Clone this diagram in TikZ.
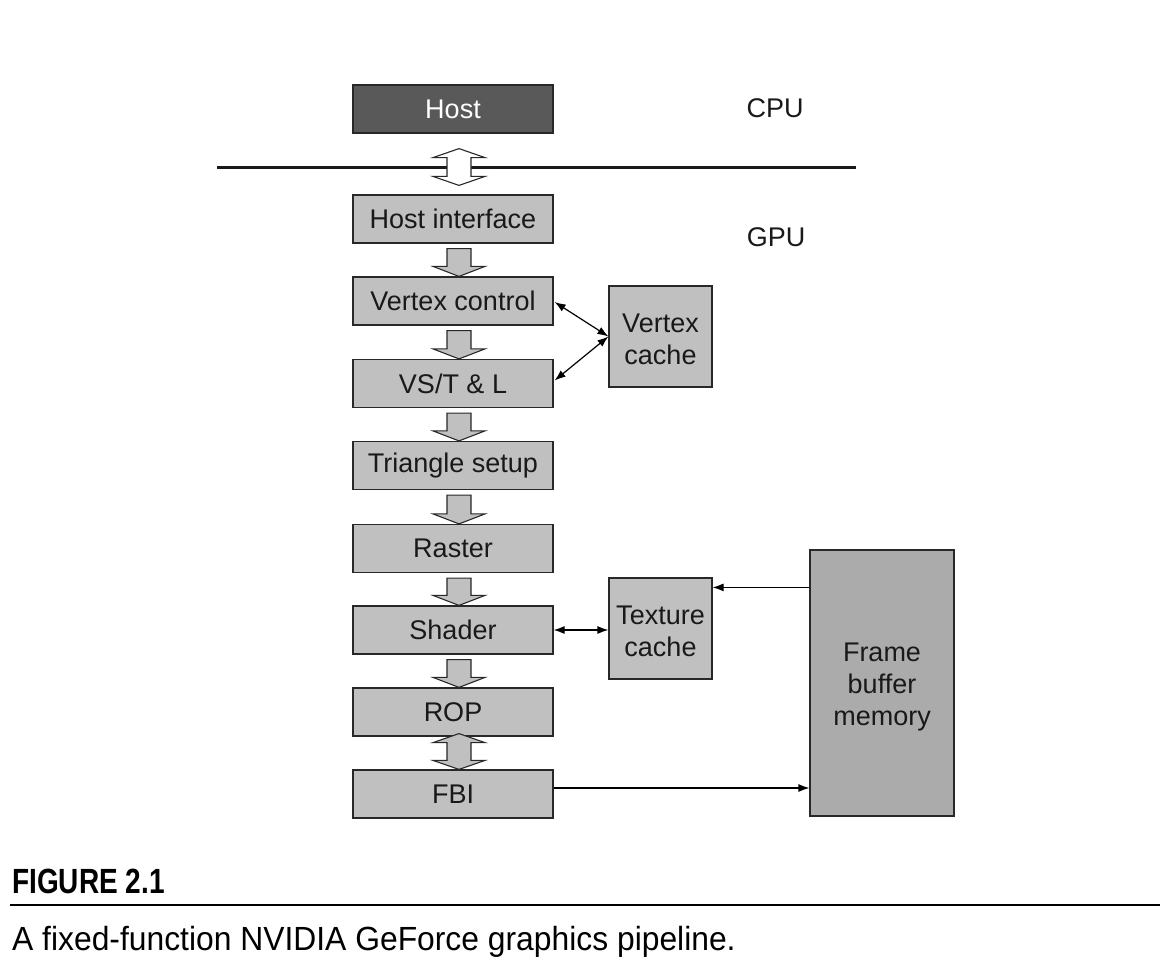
\documentclass[tikz,border=0pt]{standalone}
\usepackage{fontspec}
\setmainfont{Liberation Sans}
\newfontfamily\capfont[FakeStretch=0.95]{Liberation Sans}
\newfontfamily\figfont[FakeStretch=0.8]{Liberation Sans}
\usetikzlibrary{arrows.meta,calc}
\definecolor{boxgray}{RGB}{192,192,192}
\definecolor{hostgray}{RGB}{89,89,89}
\definecolor{fbgray}{RGB}{171,171,171}
\definecolor{edgegray}{RGB}{40,40,40}
\newcommand\blkdown[3]{%
  \draw[blk, fill=#3] ($(#1.south)+(-6,5)$) -- ($(#2.north)+(-6,-10)$) -- ($(#2.north)+(-20,-10)$) -- ($(#2.north)+(6,0)$) -- ($(#2.north)+(32,-10)$) -- ($(#2.north)+(18,-10)$) -- ($(#1.south)+(18,5)$) -- cycle;}
\newcommand\blkboth[5]{%
  \draw[blk, fill=#5] ($(#1.south)+(6,#3)$) -- ($(#1.south)+(32,#3+9)$) -- ($(#1.south)+(18,#3+9)$) -- ($(#2.north)+(18,-#4-9)$) -- ($(#2.north)+(32,-#4-9)$) -- ($(#2.north)+(6,-#4)$) -- ($(#2.north)+(-20,-#4-9)$) -- ($(#2.north)+(-6,-#4-9)$) -- ($(#1.south)+(-6,#3+9)$) -- ($(#1.south)+(-20,#3+9)$) -- cycle;}
\begin{document}
\begin{tikzpicture}[x=1pt,y=-1pt,
  box/.style={draw=edgegray, line width=1.2pt, fill=boxgray, minimum width=200pt, minimum height=48pt, inner sep=0pt, font=\fontsize{27}{32}\selectfont, text=black!90},
  cache/.style={box, minimum width=103pt, minimum height=101pt, align=center},
  lbl/.style={font=\fontsize{27}{32}\selectfont, inner sep=0pt, text=black!90},
  blk/.style={draw=edgegray, line width=1.1pt, line join=miter},
  biarrow/.style={line width=1.2pt, {Latex[length=11pt,width=8pt]}-{Latex[length=11pt,width=8pt]}},
  arr/.style={line width=1.2pt, -{Latex[length=11pt,width=8pt]}}]
\useasboundingbox (0,0) rectangle (1172,972);
% bus
\coordinate (busL) at (217,167);
\coordinate (busR) at (856,167);
\draw[line width=3pt, black!90] (busL) -- (busR);
% pipeline boxes
\node[box, fill=hostgray, text=white] (host) at (453,109) {Host};
\node[box] (hi) at (453,219) {Host interface};
\node[box] (vc) at (453,301) {Vertex control};
\node[box] (vs) at (453,383.5) {VS/T \& L};
\node[box] (ts) at (453,465.5) {Triangle setup};
\node[box] (ra) at (453,548.5) {Raster};
\node[box] (sh) at (453,630) {Shader};
\node[box] (rop) at (453,712) {ROP};
\node[box] (fbi) at (453,794) {FBI};
% caches and memory
\node[cache] (vcache) at (660.5,336.5) {\rule{0pt}{23.5pt}Vertex\\cache};
\node[cache] (tcache) at (660.5,628.5) {\rule{0pt}{23.5pt}Texture\\cache};
\node[cache, fill=fbgray, minimum width=144pt, minimum height=266pt] (fb) at (882,683) {\rule{0pt}{27.5pt}Frame\\buffer\\memory};
% labels
\node[lbl] (cpu) at (775,108) {CPU};
\node[lbl] (gpu) at (776,237) {GPU};
% block arrows
\blkboth{host}{hi}{15}{9}{white}
\blkdown{hi}{vc}{boxgray}
\blkdown{vc}{vs}{boxgray}
\blkdown{vs}{ts}{boxgray}
\blkdown{ts}{ra}{boxgray}
\blkdown{ra}{sh}{boxgray}
\blkdown{sh}{rop}{boxgray}
\blkboth{rop}{fbi}{-3}{0}{boxgray}
% thin connectors
\draw[biarrow] ($(vc.east)+(1,1)$) -- (vcache.west);
\draw[biarrow] ($(vs.east)+(1,-3)$) -- (vcache.west);
\draw[biarrow] (sh.east) -- (sh.east -| tcache.west);
\coordinate (fbt) at ($(fb.north west)+(0,38)$);
\draw[arr] (fbt) -- (fbt -| tcache.east);
\coordinate (fbis) at ($(fbi.east)+(0,-6)$);
\draw[arr] (fbis) -- (fbis -| fb.west);
% caption
\node[anchor=base west, inner sep=0pt, font=\figfont\bfseries\fontsize{35}{40}\selectfont] (fig) at (12,893) {FIGURE 2.1};
\coordinate (ruleL) at (10,905);
\coordinate (ruleR) at (1160,905);
\draw[line width=1.5pt] (ruleL) -- (ruleR);
\node[anchor=base west, inner sep=0pt, font=\capfont\fontsize{33.5}{40}\selectfont] (cap) at (12,950) {A fixed-function NVIDIA GeForce graphics pipeline.};
\end{tikzpicture}
\end{document}
